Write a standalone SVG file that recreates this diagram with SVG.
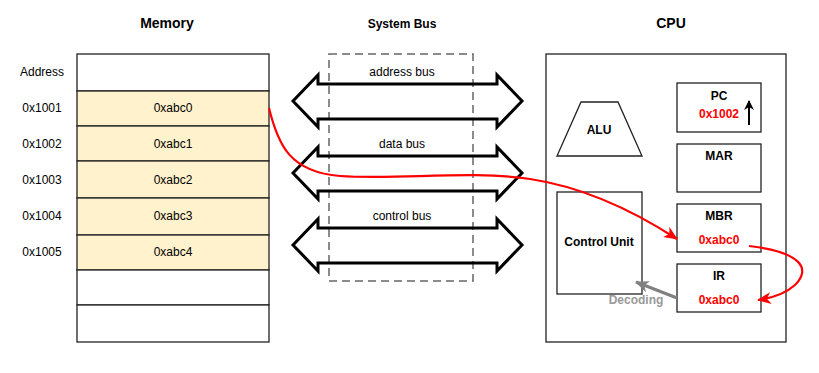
<svg xmlns="http://www.w3.org/2000/svg" width="819" height="373" viewBox="0 0 819 373">
<style>
text{font-family:"Liberation Sans",Arial,sans-serif;font-size:12px;fill:#000;text-anchor:middle}
.title{font-size:14px;font-weight:bold}
.b{font-weight:bold}
.red{fill:#ff0000;font-weight:bold}
.cell{fill:#fff2cc;stroke:#222;stroke-width:1.3}
.wcell{fill:#fff;stroke:#222;stroke-width:1.3}
.box{fill:#fff;stroke:#222;stroke-width:1.3}
.bus{fill:none;stroke:#000;stroke-width:3;stroke-linejoin:miter}
.red-line{fill:none;stroke:#ff0000;stroke-width:2.2}
</style>
<defs>
<marker id="ar" markerUnits="userSpaceOnUse" markerWidth="14" markerHeight="12" viewBox="0 0 14 12" refX="13" refY="6" orient="auto">
<path d="M0,0 L14,6 L0,12 L4,6 z" fill="#ff0000"/>
</marker>
<marker id="ag" markerUnits="userSpaceOnUse" markerWidth="14" markerHeight="12" viewBox="0 0 14 12" refX="13" refY="6" orient="auto">
<path d="M0,0 L14,6 L0,12 L4,6 z" fill="#808080"/>
</marker>
<marker id="ak" markerUnits="userSpaceOnUse" markerWidth="10" markerHeight="10" viewBox="0 0 10 10" refX="9" refY="5" orient="auto">
<path d="M0,0 L10,5 L0,10 L3,5 z" fill="#000"/>
</marker>
</defs>

<text class="title" x="167" y="28">Memory</text>
<text class="b" x="402" y="28">System Bus</text>
<text class="title" x="671" y="28">CPU</text>

<g id="memory">
<rect class="wcell" x="77" y="54" width="192" height="37"/>
<rect class="cell" x="77" y="91" width="192" height="35"/>
<rect class="cell" x="77" y="126" width="192" height="35"/>
<rect class="cell" x="77" y="161" width="192" height="37"/>
<rect class="cell" x="77" y="198" width="192" height="37"/>
<rect class="cell" x="77" y="235" width="192" height="35"/>
<rect class="wcell" x="77" y="270" width="192" height="35"/>
<rect class="wcell" x="77" y="305" width="192" height="37"/>
<text x="173" y="112">0xabc0</text>
<text x="173" y="148">0xabc1</text>
<text x="173" y="184">0xabc2</text>
<text x="173" y="220">0xabc3</text>
<text x="173" y="256">0xabc4</text>
<text x="42" y="76">Address</text>
<text x="42" y="112">0x1001</text>
<text x="42" y="148">0x1002</text>
<text x="42" y="184">0x1003</text>
<text x="42" y="220">0x1004</text>
<text x="42" y="256">0x1005</text>
</g>

<g id="system-bus">
<rect x="329" y="54" width="144" height="227" fill="none" stroke="#666" stroke-width="1.5" stroke-dasharray="8 5"/>
<polygon class="bus" points="293,101 318,75 318,84 497,84 497,75 522,101 497,127 497,119 318,119 318,127"/>
<polygon class="bus" points="293,173 318,147 318,156 497,156 497,147 522,173 497,199 497,191 318,191 318,199"/>
<polygon class="bus" points="293,245 318,219 318,228 497,228 497,219 522,245 497,271 497,263 318,263 318,271"/>
<text x="402" y="76">address bus</text>
<text x="402" y="148">data bus</text>
<text x="402" y="220">control bus</text>
</g>

<g id="cpu">
<rect class="box" x="546" y="54" width="240" height="288"/>
</g>
<g id="alu">
<polygon class="box" points="581,102 618,102 642,156 557,156"/>
<text class="b" x="599" y="134">ALU</text>
</g>
<g id="control-unit">
<rect class="box" x="557" y="192" width="85" height="102"/>
<text class="b" x="599" y="246">Control Unit</text>
</g>
<g id="pc">
<rect class="box" x="677" y="83" width="84" height="49"/>
<text class="b" x="719" y="100">PC</text>
<text class="red" x="719" y="118">0x1002</text>
</g>
<g id="mar">
<rect class="box" x="677" y="144" width="84" height="48"/>
<text class="b" x="719" y="160">MAR</text>
</g>
<g id="mbr">
<rect class="box" x="677" y="204" width="84" height="48"/>
<text class="b" x="719" y="220">MBR</text>
<text class="red" x="719" y="244">0xabc0</text>
</g>
<g id="ir">
<rect class="box" x="677" y="264" width="84" height="48"/>
<text class="b" x="719" y="280">IR</text>
<text class="red" x="719" y="304">0xabc0</text>
</g>

<g id="connectors">
<path class="red-line" d="M269,108 C278,145 290,172 340,176 C400,180 470,170 530,179 C590,188 640,215 677,239" marker-end="url(#ar)"/>
<path class="red-line" d="M749,246 C800,252 812,268 795,285 C785,294 772,298 758,300" marker-end="url(#ar)"/>
<line x1="677" y1="298" x2="636" y2="282" stroke="#808080" stroke-width="3" marker-end="url(#ag)"/>
<line x1="749" y1="125" x2="749" y2="101" stroke="#000" stroke-width="2" marker-end="url(#ak)"/>
<text x="636" y="304" style="fill:#999;font-weight:bold">Decoding</text>
</g>
</svg>
